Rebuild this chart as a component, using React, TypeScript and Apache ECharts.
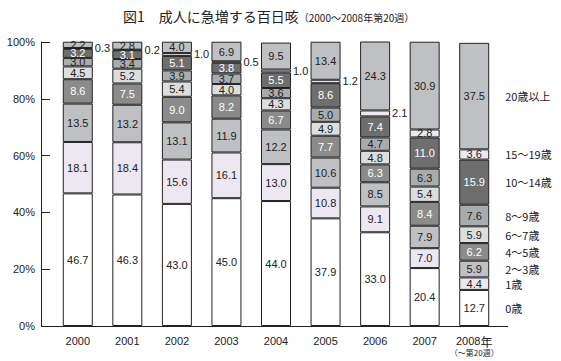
import React, { useEffect, useRef } from "react";
import * as echarts from "echarts";

const categories = ["2000", "2001", "2002", "2003", "2004", "2005", "2006", "2007", "2008"];
const ageGroups = ["0歳", "1歳", "2～3歳", "4～5歳", "6～7歳", "8～9歳", "10～14歳", "15～19歳", "20歳以上"];
const yTicks = [0, 20, 40, 60, 80, 100];

const age0 = [46.7, 46.3, 43.0, 45.0, 44.0, 37.9, 33.0, 20.4, 12.7];
const age1 = [18.1, 18.4, 15.6, 16.1, 13.0, 10.8, 9.1, 7.0, 4.4];
const age2to3 = [13.5, 13.2, 13.1, 11.9, 12.2, 10.6, 8.5, 7.9, 5.9];
const age4to5 = [8.6, 7.5, 9.0, 8.2, 6.7, 7.7, 6.3, 8.4, 6.2];
const age6to7 = [4.5, 5.2, 5.4, 4.0, 4.3, 4.9, 4.8, 5.4, 5.9];
const age8to9 = [3.0, 3.4, 3.9, 3.7, 3.6, 5.0, 4.7, 6.3, 7.6];
const age10to14 = [3.2, 3.1, 5.1, 3.8, 5.5, 8.6, 7.4, 11.0, 15.9];
const age15to19 = [0.3, 0.2, 1.0, 0.5, 1.0, 1.2, 2.1, 2.8, 3.6];
const age20plus = [2.2, 2.8, 4.0, 6.9, 9.5, 13.4, 24.3, 30.9, 37.5];

const seriesValues = [age0, age1, age2to3, age4to5, age6to7, age8to9, age10to14, age15to19, age20plus];
const colors = ["#ffffff", "#ece7f1", "#bfc0c3", "#8b8b8b", "#dcdddd", "#a9acae", "#6e6e6e", "#ece7f1", "#bfc0c3"];
const labelColors = ["#222", "#222", "#222", "#fff", "#222", "#222", "#fff", "#222", "#222"];
// number of leading years whose 15~19 label sits outside the bar
const outsideCount = 7;

const FONT = "'Liberation Sans', Arial, 'Noto Sans CJK JP', sans-serif";
const CJK = "'Noto Sans CJK JP', 'Liberation Sans', sans-serif";

export default function App() {
  const ref = useRef<HTMLDivElement>(null);
  useEffect(() => {
    if (!ref.current) return;
    const chart = echarts.init(ref.current, undefined, { renderer: "svg" });
    const last = categories.length - 1;

    const mainSeries = seriesValues.map((vals, si) => ({
      name: ageGroups[si],
      type: "bar",
      stack: "main",
      barWidth: 30,
      barGap: "-100%",
      itemStyle: { color: colors[si], borderColor: "#222", borderWidth: 1 },
      label: {
        show: true,
        position: "inside",
        color: labelColors[si],
        fontSize: 11,
        fontFamily: FONT,
        formatter: (p: any) => Number(p.value).toFixed(1),
      },
      data: vals.map((v, i) =>
        si === 7 && i < outsideCount
          ? { value: v, label: { position: "right", distance: 2, color: "#222" } }
          : v
      ),
    }));

    const legendSeries = seriesValues.map((vals, si) => ({
      name: ageGroups[si] + "_legend",
      type: "bar",
      stack: "legend",
      barWidth: 30,
      barGap: "-100%",
      silent: true,
      itemStyle: { color: "rgba(0,0,0,0)", borderWidth: 0 },
      label: {
        show: true,
        position: "right",
        distance: 16,
        color: "#222",
        fontSize: 11,
        fontFamily: CJK,
        formatter: () => ageGroups[si],
      },
      data: vals.map((v, i) => (i === last ? v : "-")),
    }));

    chart.setOption({
      animation: false,
      title: {
        text: "{a|図1　成人に急増する百日咳}{b|（2000～2008年第20週）}",
        left: 118,
        top: 4,
        textStyle: {
          fontWeight: "normal",
          rich: {
            a: { fontSize: 14, fontFamily: CJK, color: "#222", fontWeight: "normal" },
            b: { fontSize: 10, fontFamily: CJK, color: "#222", fontWeight: "normal", padding: [3, 0, 0, 0] },
          },
        },
      },
      grid: { left: 53, right: 62, top: 42, bottom: 35 },
      xAxis: {
        type: "category",
        data: categories,
        axisLine: { show: false },
        axisTick: { show: false },
        axisLabel: {
          interval: 0,
          margin: 9,
          fontSize: 11,
          fontFamily: FONT,
          color: "#222",
          lineHeight: 12,
          formatter: (v: string, i: number) =>
            i === last ? v + "{n|年}\n{s|（～第20週）}" : v,
          rich: {
            n: { fontSize: 12, fontFamily: CJK, color: "#222", lineHeight: 12 },
            s: { fontSize: 8, fontFamily: CJK, color: "#222", lineHeight: 11 },
          },
        },
      },
      yAxis: {
        type: "value",
        min: yTicks[0],
        max: yTicks[yTicks.length - 1],
        interval: 20,
        offset: 12,
        axisLine: { show: true, lineStyle: { color: "#222", width: 1 } },
        axisTick: { show: true, inside: true, length: 9, lineStyle: { color: "#222" } },
        splitLine: { show: false },
        axisLabel: {
          formatter: "{value}%",
          fontSize: 11,
          fontFamily: FONT,
          color: "#222",
          margin: 6,
        },
      },
      graphic: [
        {
          type: "line",
          shape: { x1: 41, y1: 326.5, x2: 508, y2: 326.5 },
          style: { stroke: "#222", lineWidth: 1 },
          z: 10,
        },
      ],
      series: [...mainSeries, ...legendSeries],
    });
    return () => chart.dispose();
  }, []);
  return <div ref={ref} style={{ width: 561, height: 361, position: "absolute", left: 0, top: 0, background: "#fff" }} />;
}
